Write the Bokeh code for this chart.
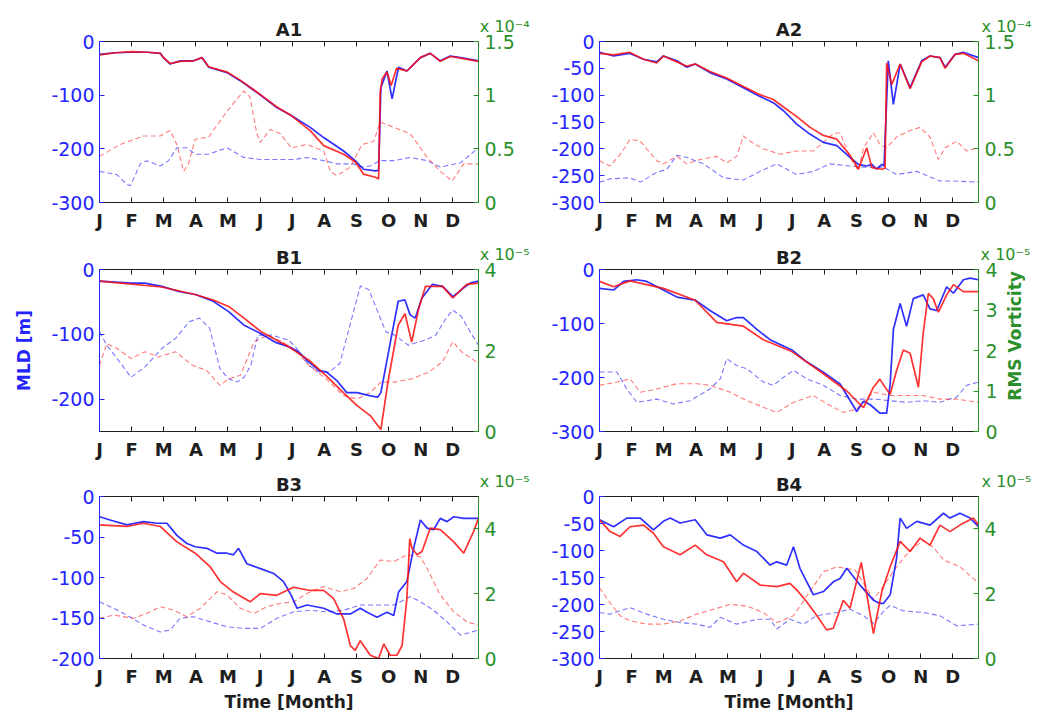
import math
from bokeh.plotting import figure
from bokeh.models import Range1d, LinearAxis, FixedTicker, CustomJSTickFormatter
from bokeh.core.properties import value
from bokeh.layouts import column, row
from bokeh.embed import file_html
from bokeh.resources import INLINE

# ---------------------------------------------------------------------------
# Time axis: months as fractional month index (0 = start of January)
# ---------------------------------------------------------------------------
MONTH_LABELS = ["J", "F", "M", "A", "M", "J", "J", "A", "S", "O", "N", "D"]
MONTH_TICKS = list(range(12))
X_END = 11.8

# ---------------------------------------------------------------------------
# Mixed layer depth [m] (series 1 / series 2) and RMS vorticity (scaled by
# the panel multiplier) for each station
# ---------------------------------------------------------------------------
# A1
A1_MLD1_X = [0, 0.5, 1.0, 1.5, 1.89, 1.99, 2.2, 2.51, 2.93, 3.19, 3.4, 3.97, 4.38, 4.97, 5.52, 5.97, 6.56, 6.98, 7.6, 7.96,
             8.22, 8.59, 8.69, 8.76, 8.95, 9.11, 9.31, 9.57, 9.99, 10.3, 10.61, 10.92, 11.24, 11.8]
A1_MLD1 = [-24, -21, -20, -20, -22, -30, -42, -36, -36, -30, -48, -58, -73, -98, -123, -138, -160, -179, -204, -222,
           -238, -241, -240, -86, -55, -107, -48, -55, -30, -22, -36, -27, -30, -36]
A1_MLD2_X = [0, 0.5, 1.0, 1.5, 1.89, 1.99, 2.2, 2.51, 2.93, 3.19, 3.4, 3.97, 4.38, 4.97, 5.52, 5.97, 6.56, 6.98, 7.6, 7.96,
             8.22, 8.59, 8.69, 8.74, 8.8, 8.95, 9.08, 9.25, 9.57, 9.99, 10.3, 10.61, 10.92, 11.24, 11.8]
A1_MLD2 = [-25, -21, -19, -20, -22, -30, -41, -37, -36, -30, -47, -57, -72, -97, -122, -138, -166, -194, -210, -224,
           -247, -253, -256, -95, -70, -57, -82, -50, -55, -30, -22, -37, -28, -31, -37]
A1_VOR1_X = [0, 0.54, 0.85, 0.96, 1.27, 1.47, 1.89, 2.15, 2.41, 2.72, 2.98, 3.4, 3.97, 4.49, 5.01, 6.04, 6.46, 6.98, 7.39,
             7.91, 8.17, 8.43, 8.74, 9.16, 9.68, 10.2, 10.61, 11.24, 11.8]
A1_VOR1 = [0.29, 0.26, 0.17, 0.155, 0.36, 0.39, 0.34, 0.39, 0.51, 0.51, 0.45, 0.45, 0.51, 0.42, 0.40, 0.40, 0.42, 0.39,
           0.36, 0.36, 0.33, 0.34, 0.39, 0.39, 0.42, 0.39, 0.33, 0.37, 0.51]
A1_VOR2_X = [0, 0.64, 1.37, 1.89, 2.2, 2.41, 2.62, 2.77, 2.98, 3.4, 3.97, 4.49, 4.69, 4.9, 5.0, 5.32, 5.63, 5.97, 6.46,
             6.98, 7.19, 7.39, 7.81, 8.17, 8.54, 8.74, 9.16, 9.68, 10.2, 10.61, 10.98, 11.34, 11.8]
A1_VOR2 = [0.43, 0.54, 0.62, 0.62, 0.67, 0.54, 0.29, 0.36, 0.59, 0.61, 0.85, 1.04, 0.98, 0.64, 0.56, 0.68, 0.64, 0.51,
           0.54, 0.48, 0.29, 0.25, 0.33, 0.54, 0.57, 0.75, 0.70, 0.64, 0.42, 0.29, 0.20, 0.36, 0.36]

# A2
A2_MLD1_X = [0, 0.44, 0.93, 1.37, 1.78, 1.99, 2.41, 2.72, 2.98, 3.44, 3.96, 4.48, 4.95, 5.41, 5.73, 6.14, 6.56, 6.97, 7.39,
             7.80, 8.06, 8.32, 8.48, 8.63, 8.79, 8.86, 8.99, 9.15, 9.36, 9.67, 10.03, 10.29, 10.60, 10.76, 11.07, 11.33, 11.8]
A2_MLD1 = [-20, -27, -22, -33, -38, -27, -36, -48, -42, -58, -70, -86, -101, -114, -129, -154, -173, -188, -194, -216,
           -229, -232, -229, -238, -229, -232, -36, -117, -42, -86, -36, -27, -30, -48, -24, -20, -30]
A2_MLD2_X = [0, 0.44, 0.93, 1.37, 1.78, 1.99, 2.41, 2.72, 2.98, 3.44, 3.96, 4.48, 4.95, 5.41, 5.73, 6.14, 6.56, 6.97, 7.39,
             7.80, 8.06, 8.32, 8.48, 8.79, 8.89, 8.94, 9.10, 9.36, 9.67, 10.03, 10.29, 10.60, 10.76, 11.07, 11.33, 11.8]
A2_MLD2 = [-22, -25, -20, -33, -40, -27, -38, -46, -42, -56, -68, -84, -98, -108, -122, -140, -160, -175, -182, -212,
           -238, -198, -235, -238, -236, -40, -80, -42, -88, -38, -27, -30, -50, -24, -22, -36]
A2_VOR1_X = [0, 0.33, 0.95, 1.27, 1.78, 2.10, 2.41, 2.72, 3.24, 3.86, 4.48, 5.00, 5.52, 6.14, 6.66, 7.18, 7.80, 8.22, 8.84,
             9.25, 9.88, 10.60, 11.02, 11.8]
A2_VOR1 = [0.19, 0.22, 0.23, 0.19, 0.28, 0.31, 0.44, 0.42, 0.36, 0.23, 0.21, 0.29, 0.36, 0.26, 0.29, 0.36, 0.34, 0.33,
           0.33, 0.26, 0.29, 0.20, 0.20, 0.19]
A2_VOR2_X = [0, 0.33, 0.70, 0.95, 1.27, 1.78, 1.99, 2.41, 2.72, 3.13, 3.65, 3.96, 4.27, 4.48, 4.69, 5.10, 5.62, 6.14, 6.66,
             6.97, 7.28, 7.49, 7.80, 8.06, 8.22, 8.53, 8.73, 8.94, 9.25, 9.67, 9.98, 10.29, 10.55, 10.76, 11.12, 11.43, 11.8]
A2_VOR2 = [0.39, 0.34, 0.47, 0.59, 0.57, 0.39, 0.36, 0.43, 0.36, 0.40, 0.43, 0.37, 0.43, 0.62, 0.57, 0.50, 0.45, 0.48,
           0.48, 0.56, 0.64, 0.65, 0.42, 0.30, 0.51, 0.65, 0.54, 0.51, 0.61, 0.67, 0.70, 0.61, 0.40, 0.51, 0.57, 0.48, 0.51]

# B1
B1_MLD1_X = [0, 0.98, 1.41, 1.94, 2.47, 3.01, 3.54, 4.02, 4.50, 5.03, 5.46, 5.88, 6.20, 6.52, 6.84, 7.06, 7.38, 7.70, 8.02,
             8.44, 8.66, 8.76, 9.08, 9.30, 9.51, 9.67, 9.83, 10.04, 10.36, 10.68, 11.00, 11.32, 11.54, 11.8]
B1_MLD1 = [-18, -21, -21, -26, -34, -39, -49, -65, -86, -99, -112, -119, -127, -143, -156, -158, -171, -190, -190, -195,
           -197, -190, -106, -49, -47, -70, -75, -44, -23, -26, -42, -29, -21, -18]
B1_MLD2_X = [0, 1.94, 3.01, 3.54, 4.02, 4.50, 5.03, 5.88, 6.52, 7.06, 7.59, 8.02, 8.44, 8.76, 8.98, 9.30, 9.51, 9.72, 9.94,
             10.15, 10.68, 11.00, 11.43, 11.8]
B1_MLD2 = [-18, -27, -39, -47, -57, -75, -96, -119, -140, -164, -190, -210, -226, -247, -174, -86, -68, -112, -60, -26,
           -26, -44, -23, -21]
B1_VOR1_X = [0, 0.23, 0.55, 0.98, 1.41, 1.94, 2.37, 2.79, 3.11, 3.43, 3.75, 4.02, 4.29, 4.50, 4.71, 4.93, 5.35, 5.88, 6.10,
             6.52, 6.84, 7.16, 7.48, 7.80, 8.12, 8.39, 8.66, 8.92, 9.19, 9.62, 10.15, 10.47, 10.79, 11.00, 11.27, 11.54, 11.8]
B1_VOR1 = [2.46, 2.13, 1.80, 1.34, 1.59, 2.05, 2.30, 2.71, 2.80, 2.55, 1.55, 1.30, 1.22, 1.34, 1.63, 2.38, 2.38, 2.26,
           2.09, 1.63, 1.47, 1.47, 1.68, 2.63, 3.59, 3.50, 2.96, 2.46, 2.38, 2.13, 2.26, 2.38, 2.80, 3.00, 2.84, 2.46, 2.13]
B1_VOR2_X = [0, 0.23, 0.55, 0.98, 1.41, 1.83, 2.37, 2.90, 3.33, 3.75, 4.02, 4.39, 4.82, 5.25, 5.67, 6.10, 6.52, 7.06, 7.59,
             8.02, 8.44, 8.76, 9.19, 9.72, 10.26, 10.68, 11.00, 11.27, 11.8]
B1_VOR2 = [1.63, 2.17, 2.05, 1.80, 1.97, 1.84, 1.97, 1.63, 1.51, 1.14, 1.30, 1.39, 2.22, 2.38, 2.22, 2.01, 1.63, 1.30,
           0.89, 0.80, 0.97, 1.22, 1.22, 1.30, 1.47, 1.72, 2.22, 1.97, 1.68]

# B2
B2_MLD1_X = [0, 0.44, 0.75, 1.16, 1.47, 1.99, 2.41, 2.98, 3.44, 3.96, 4.27, 4.48, 4.90, 5.31, 5.99, 6.45, 6.97, 7.49, 8.01,
             8.22, 8.42, 8.73, 8.94, 9.05, 9.15, 9.36, 9.56, 9.77, 10.08, 10.29, 10.50, 10.81, 11.02, 11.33, 11.54, 11.8]
B2_MLD1 = [-35, -38, -22, -19, -22, -38, -51, -57, -76, -95, -89, -89, -111, -130, -149, -171, -190, -212, -263, -244,
           -250, -266, -266, -212, -111, -63, -105, -54, -47, -73, -76, -32, -44, -19, -16, -19]
B2_MLD2_X = [0, 0.44, 0.95, 1.99, 2.98, 3.65, 4.48, 5.10, 5.99, 6.97, 7.70, 8.11, 8.22, 8.53, 8.73, 8.89, 9.05, 9.25, 9.46,
             9.67, 9.93, 10.08, 10.24, 10.39, 10.55, 10.81, 11.02, 11.33, 11.8]
B2_MLD2 = [-22, -32, -21, -35, -57, -98, -105, -130, -152, -193, -225, -250, -256, -218, -203, -218, -231, -187, -149,
           -155, -218, -117, -44, -54, -79, -47, -28, -41, -41]
B2_VOR1_X = [0, 0.54, 0.85, 1.16, 1.78, 2.30, 2.82, 3.44, 3.76, 3.96, 4.27, 4.59, 5.10, 5.41, 5.73, 6.04, 6.45, 6.97, 7.49,
             8.01, 8.53, 9.05, 9.56, 10.08, 10.60, 11.12, 11.43, 11.8]
B2_VOR1 = [1.47, 1.47, 1.05, 0.72, 0.80, 0.68, 0.76, 1.05, 1.30, 1.80, 1.63, 1.55, 1.22, 1.14, 1.34, 1.51, 1.30, 1.14,
           0.89, 0.80, 0.80, 0.76, 0.72, 0.76, 0.72, 0.85, 1.14, 1.22]
B2_VOR2_X = [0, 0.54, 0.95, 1.27, 1.78, 2.41, 3.03, 3.44, 4.07, 4.59, 5.10, 5.52, 6.04, 6.66, 7.18, 7.59, 8.01, 8.53, 9.05,
             9.56, 10.08, 10.60, 11.12, 11.8]
B2_VOR2 = [1.14, 1.22, 1.30, 0.97, 1.05, 1.18, 1.18, 1.14, 0.97, 0.76, 0.60, 0.47, 0.72, 0.89, 0.64, 0.47, 0.56, 0.97,
           0.89, 0.89, 0.89, 0.80, 0.80, 0.72]

# B3
B3_MLD1_X = [0, 0.33, 0.85, 1.37, 1.79, 2.10, 2.41, 2.72, 2.98, 3.34, 3.66, 3.97, 4.17, 4.33, 4.59, 5.01, 5.42, 5.73, 5.97,
             6.15, 6.46, 6.98, 7.39, 7.81, 8.12, 8.33, 8.64, 8.95, 9.16, 9.31, 9.57, 9.78, 9.99, 10.20, 10.40, 10.61, 10.82,
             11.03, 11.34, 11.8]
B3_MLD1 = [-25, -29, -35, -31, -33, -33, -48, -58, -62, -64, -70, -70, -72, -64, -83, -89, -95, -105, -122, -138, -134,
           -138, -145, -145, -138, -143, -149, -143, -147, -118, -105, -64, -29, -39, -41, -27, -31, -25, -27, -27]
B3_MLD2_X = [0, 0.85, 1.37, 1.89, 2.41, 2.98, 3.45, 3.76, 4.17, 4.69, 5.01, 5.52, 6.04, 6.56, 6.98, 7.29, 7.60, 7.81, 7.96,
             8.12, 8.43, 8.69, 8.85, 9.05, 9.26, 9.42, 9.57, 9.66, 9.73, 9.89, 10.04, 10.30, 10.61, 11.03, 11.34, 11.65, 11.8]
B3_MLD2 = [-35, -37, -33, -37, -56, -70, -87, -105, -118, -130, -120, -122, -112, -116, -116, -126, -151, -184, -190,
           -178, -196, -200, -182, -196, -196, -184, -126, -52, -64, -72, -68, -39, -41, -56, -70, -43, -27]
B3_VOR1_X = [0, 0.44, 0.85, 1.37, 1.89, 2.20, 2.51, 2.93, 3.45, 3.97, 4.49, 5.01, 5.52, 6.04, 6.56, 7.09, 7.60, 8.12, 8.64,
             9.16, 9.68, 9.99, 10.40, 10.82, 11.24, 11.8]
B3_VOR1 = [1.75, 1.55, 1.34, 1.03, 0.82, 0.88, 1.24, 1.29, 1.13, 0.98, 0.93, 0.93, 1.24, 1.44, 1.49, 1.44, 1.49, 1.65,
           1.65, 1.65, 1.91, 1.75, 1.49, 1.13, 0.72, 0.88]
B3_VOR2_X = [0, 0.44, 1.06, 1.58, 1.89, 2.31, 2.72, 3.14, 3.66, 3.97, 4.38, 4.80, 5.21, 5.63, 6.04, 6.56, 6.98, 7.50, 7.91,
             8.33, 8.74, 9.16, 9.57, 9.99, 10.20, 10.61, 11.03, 11.44, 11.8]
B3_VOR2 = [1.24, 1.34, 1.24, 1.44, 1.60, 1.49, 1.29, 1.55, 2.06, 1.96, 1.55, 1.39, 1.60, 1.70, 1.75, 2.06, 2.22, 2.06,
           2.16, 2.47, 3.04, 2.99, 3.20, 3.14, 2.78, 1.96, 1.44, 1.13, 1.03]

# B4
B4_MLD1_X = [0, 0.44, 0.85, 1.27, 1.68, 1.99, 2.20, 2.51, 2.98, 3.34, 3.76, 4.07, 4.48, 4.90, 5.31, 5.52, 5.83, 6.04, 6.24,
             6.66, 6.97, 7.28, 7.49, 7.70, 8.11, 8.53, 8.73, 8.84, 9.05, 9.25, 9.36, 9.56, 9.88, 10.29, 10.71, 10.91, 11.22,
             11.54, 11.8]
B4_MLD1 = [-43, -56, -40, -40, -62, -46, -40, -49, -43, -71, -77, -71, -90, -102, -127, -121, -127, -93, -133, -182,
           -176, -158, -152, -133, -164, -192, -198, -198, -182, -114, -40, -59, -46, -53, -31, -40, -31, -40, -56]
B4_MLD2_X = [0, 0.33, 0.64, 0.95, 1.37, 1.68, 1.99, 2.51, 2.98, 3.34, 3.86, 4.27, 4.48, 5.00, 5.52, 5.93, 6.14, 6.45, 6.76,
             7.07, 7.28, 7.59, 7.80, 8.15, 8.53, 8.79, 9.05, 9.36, 9.67, 9.98, 10.29, 10.60, 10.91, 11.22, 11.64, 11.8]
B4_MLD2 = [-43, -65, -74, -56, -53, -68, -93, -108, -90, -108, -121, -158, -142, -164, -167, -161, -173, -195, -220,
           -247, -244, -192, -207, -122, -254, -176, -130, -83, -102, -77, -90, -53, -65, -53, -40, -53]
B4_VOR1_X = [0, 0.33, 0.95, 1.47, 1.99, 2.51, 3.03, 3.44, 3.76, 4.27, 4.90, 5.31, 5.52, 5.93, 6.35, 6.76, 7.39, 7.80, 8.22,
             8.53, 8.84, 9.05, 9.46, 10.08, 10.60, 11.12, 11.8]
B4_VOR1 = [1.42, 1.37, 1.57, 1.37, 1.21, 1.11, 1.06, 0.96, 1.27, 1.06, 1.21, 1.21, 0.91, 1.21, 1.06, 1.32, 1.42, 1.52,
           1.32, 1.08, 1.45, 1.64, 1.47, 1.42, 1.32, 1.01, 1.06]
B4_VOR2_X = [0, 0.33, 0.64, 0.95, 1.47, 1.99, 2.51, 3.03, 3.55, 4.07, 4.59, 5.10, 5.52, 6.04, 6.45, 6.97, 7.39, 7.96, 8.22,
             8.53, 8.84, 9.25, 9.67, 10.08, 10.39, 10.71, 11.22, 11.8]
B4_VOR2 = [2.18, 1.72, 1.32, 1.16, 1.06, 1.06, 1.16, 1.37, 1.52, 1.67, 1.62, 1.42, 1.11, 1.32, 1.92, 2.68, 2.83, 2.73,
           2.33, 1.82, 2.23, 2.83, 3.34, 3.64, 3.44, 3.04, 2.83, 2.33]

# Panel axis settings: title, MLD limit and ticks, vorticity limit, ticks and exponent
PANEL_TITLES = ["A1", "A2", "B1", "B2", "B3", "B4"]
MLD_LIMITS = [-300, -300, -250, -300, -200, -300]
MLD_TICKS = [[-300, -200, -100, 0], [-300, -250, -200, -150, -100, -50, 0], [-200, -100, 0],
             [-300, -200, -100, 0], [-200, -150, -100, -50, 0], [-300, -250, -200, -150, -100, -50, 0]]
VOR_LIMITS = [1.5, 1.5, 4, 4, 5, 5]
VOR_TICKS = [[0, 0.5, 1, 1.5], [0, 0.5, 1, 1.5], [0, 2, 4], [0, 1, 2, 3, 4], [0, 2, 4], [0, 2, 4]]
VOR_EXPONENTS = [-4, -4, -5, -5, -5, -5]

SERIES = [
    (A1_MLD1_X, A1_MLD1, A1_MLD2_X, A1_MLD2, A1_VOR1_X, A1_VOR1, A1_VOR2_X, A1_VOR2),
    (A2_MLD1_X, A2_MLD1, A2_MLD2_X, A2_MLD2, A2_VOR1_X, A2_VOR1, A2_VOR2_X, A2_VOR2),
    (B1_MLD1_X, B1_MLD1, B1_MLD2_X, B1_MLD2, B1_VOR1_X, B1_VOR1, B1_VOR2_X, B1_VOR2),
    (B2_MLD1_X, B2_MLD1, B2_MLD2_X, B2_MLD2, B2_VOR1_X, B2_VOR1, B2_VOR2_X, B2_VOR2),
    (B3_MLD1_X, B3_MLD1, B3_MLD2_X, B3_MLD2, B3_VOR1_X, B3_VOR1, B3_VOR2_X, B3_VOR2),
    (B4_MLD1_X, B4_MLD1, B4_MLD2_X, B4_MLD2, B4_VOR1_X, B4_VOR1, B4_VOR2_X, B4_VOR2),
]

# ---------------------------------------------------------------------------
# Styling
# ---------------------------------------------------------------------------
FONT = "DejaVu Sans"
BLUE = "#0a0aff"
RED = "#ff0d0d"
AXIS_BLUE = "#2424ff"
GREEN = "#2b8f2b"
DARK = "#1e1e1e"

FRAME_W = 379
COL_BORDERS = [(99, 52), (69, 64)]            # left, right
ROW_BORDERS = [(41, 161, 30), (36, 162, 29), (34, 162, 58)]   # top, frame height, bottom
B2_RIGHT = 2                                  # B2's tick labels live in the strip to its right
STRIP = (23, 22, 17)                          # strip: left border, frame width, right border

NUM_FMT = CustomJSTickFormatter(code="return String(tick);")
SUPERSCRIPT = str.maketrans("-0123456789", "\u207b\u2070\u00b9\u00b2\u00b3\u2074\u2075\u2076\u2077\u2078\u2079")
NBSP = "\u00a0"


def multiplier_text(i):
    return "x 10" + str(VOR_EXPONENTS[i]).translate(SUPERSCRIPT)


def style_axis(ax, color, size="19px", bold=False, standoff=5):
    ax.axis_line_color = color
    ax.axis_line_width = 1
    ax.major_tick_line_color = color
    ax.major_tick_in = 5
    ax.major_tick_out = 0
    ax.minor_tick_line_color = None
    ax.major_label_text_color = color
    ax.major_label_text_font = FONT
    ax.major_label_text_font_size = size
    ax.major_label_text_font_style = "bold" if bold else "normal"
    ax.major_label_standoff = standoff


def ticks_only(ax):
    # keep the tick marks, draw no tick labels
    ax.major_label_text_font_size = "0px"
    ax.major_label_text_alpha = 0
    ax.major_label_standoff = 0


def bold_label(ax, text, color, standoff, size="17px"):
    ax.axis_label = text
    ax.axis_label_text_color = color
    ax.axis_label_text_font = FONT
    ax.axis_label_text_font_size = size
    ax.axis_label_text_font_style = "bold"
    ax.axis_label_standoff = standoff


def header_axis(tick, text):
    head = LinearAxis(ticker=FixedTicker(ticks=[tick]))
    style_axis(head, GREEN, size="16px", standoff=6)
    head.axis_line_color = None
    head.major_tick_line_color = None
    head.major_label_overrides = {tick: text}
    return head


def make_panel(i):
    col, rw = i % 2, i // 2
    lb, rb = COL_BORDERS[col]
    if i == 3:
        rb = B2_RIGHT
    tb, fh, bb = ROW_BORDERS[rw]
    p = figure(frame_width=FRAME_W, frame_height=fh,
               min_border_left=lb, min_border_right=rb, min_border_top=tb, min_border_bottom=bb,
               x_range=Range1d(0, X_END), y_range=Range1d(MLD_LIMITS[i], 0),
               output_backend="svg", toolbar_location=None)
    p.extra_y_ranges = {"vort": Range1d(0, VOR_LIMITS[i])}
    p.xgrid.visible = False
    p.ygrid.visible = False
    p.background_fill_color = "white"
    p.border_fill_color = "white"
    p.outline_line_color = "#3a3a3a"

    # month axis (bottom)
    xa = p.xaxis[0]
    xa.ticker = FixedTicker(ticks=MONTH_TICKS)
    xa.major_label_overrides = {t: m for t, m in zip(MONTH_TICKS, MONTH_LABELS)}
    style_axis(xa, DARK, size="18px", bold=True, standoff=7)

    # mirrored month ticks along the top edge
    top = LinearAxis(ticker=FixedTicker(ticks=MONTH_TICKS))
    style_axis(top, DARK)
    ticks_only(top)
    p.add_layout(top, "above")

    # header row: vorticity multiplier at the top-right corner, panel name centred
    mult = NBSP if i == 3 else NBSP * 11 + multiplier_text(i)
    head = header_axis(X_END, mult)
    bold_label(head, PANEL_TITLES[i], DARK, -26, size="18px")
    p.add_layout(head, "above")

    # MLD axis (left)
    ya = p.yaxis[0]
    ya.ticker = FixedTicker(ticks=MLD_TICKS[i])
    ya.formatter = NUM_FMT
    style_axis(ya, AXIS_BLUE, standoff=5)

    # vorticity axis (right)
    ra = LinearAxis(y_range_name="vort", ticker=FixedTicker(ticks=VOR_TICKS[i]), formatter=NUM_FMT)
    style_axis(ra, GREEN, standoff=6)
    if i == 3:
        ticks_only(ra)
    p.add_layout(ra, "right")

    m1x, m1, m2x, m2, v1x, v1, v2x, v2 = SERIES[i]
    p.line(v1x, v1, y_range_name="vort", line_color=BLUE, line_width=1.1, line_alpha=0.55, line_dash="5 3")
    p.line(v2x, v2, y_range_name="vort", line_color=RED, line_width=1.1, line_alpha=0.55, line_dash="5 3")
    p.line(m1x, m1, line_color=BLUE, line_width=1.7, line_alpha=0.85)
    p.line(m2x, m2, line_color=RED, line_width=1.7, line_alpha=0.85)

    if i == 2:
        bold_label(ya, "MLD [m]", AXIS_BLUE, 14)
    if rw == 2:
        bold_label(xa, "Time [Month]", DARK, 2)
    return p


def make_vorticity_strip():
    """Strip right of B2: vorticity tick labels, multiplier and the shared axis title."""
    lb, fw, rb = STRIP
    tb, fh, bb = ROW_BORDERS[1]
    s = figure(frame_width=fw, frame_height=fh,
               min_border_left=lb, min_border_right=rb, min_border_top=tb, min_border_bottom=bb,
               x_range=Range1d(0, 1), y_range=Range1d(0, VOR_LIMITS[3]), x_axis_location=None,
               output_backend="svg", toolbar_location=None)
    s.grid.visible = False
    s.outline_line_color = None
    s.background_fill_color = "white"
    s.border_fill_color = "white"

    ax = s.yaxis[0]
    ax.ticker = FixedTicker(ticks=VOR_TICKS[3])
    ax.formatter = NUM_FMT
    style_axis(ax, GREEN, standoff=6)
    ax.axis_line_color = None
    ax.major_tick_line_color = None

    s.add_layout(header_axis(0.09, multiplier_text(3)), "above")

    s.text(x=[0.5], y=[VOR_LIMITS[3] * 0.59], text=["RMS Vorticity"], angle=math.pi / 2,
           text_align="center", text_baseline="middle", text_font=value(FONT),
           text_font_style="bold", text_font_size="17px", text_color=GREEN)
    return s


panels = [make_panel(i) for i in range(6)]
strip = make_vorticity_strip()
layout = column(row(panels[0], panels[1]), row(panels[2], panels[3], strip), row(panels[4], panels[5]))

open("out.html", "w").write(file_html(layout, INLINE))
